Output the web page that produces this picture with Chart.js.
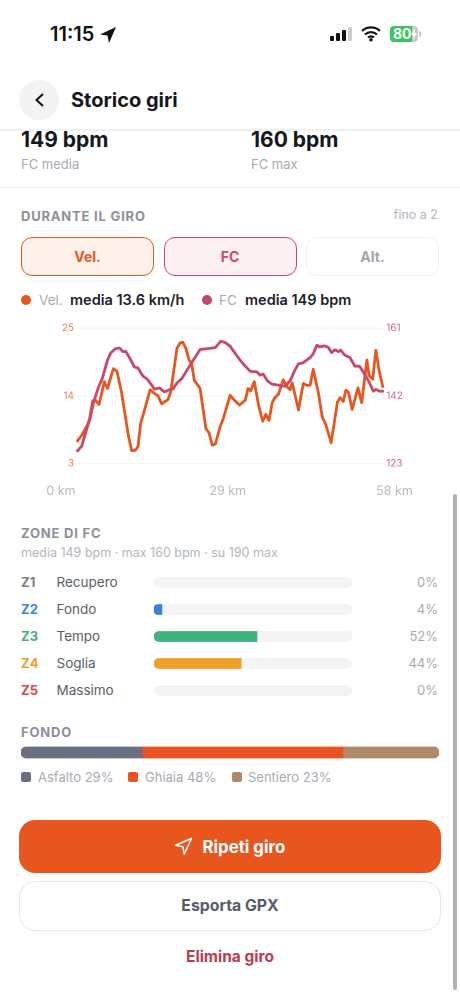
<!DOCTYPE html>
<html lang="it"><head><meta charset="utf-8">
<script src="https://cdn.jsdelivr.net/npm/chart.js@4"></script>
<style>
html,body{margin:0;padding:0;background:#fff;width:460px;height:995px;overflow:hidden;font-family:Inter,"Noto Sans",sans-serif}
.t{position:absolute;line-height:20px;height:20px;white-space:nowrap}
.box{position:absolute;box-sizing:border-box}
canvas{position:absolute}
.cap{font-size:13px;font-weight:700;letter-spacing:.8px;color:#8c909b}
.mut{color:#a6abb3;font-size:13px}
</style></head><body>
<div class="t" style="left:50px;top:24px;font-size:20px;font-weight:600;color:#111">11:15</div>
<svg class="box" style="left:99px;top:26px" width="18" height="18" viewBox="0 0 18 18"><path d="M17 1 1 8.5l7.5 1 1.5 7.5z" fill="#111"/></svg>
<svg class="box" style="left:329px;top:26px" width="24" height="16"><rect x="1" y="10" width="4" height="5" rx="1" fill="#111"/><rect x="7" y="7" width="4" height="8" rx="1" fill="#111"/><rect x="13" y="4" width="4" height="11" rx="1" fill="#111"/><rect x="19" y="1" width="4" height="14" rx="1" fill="#cfcfcf"/></svg>
<svg class="box" style="left:361px;top:25px" width="20" height="17" viewBox="0 0 20 17"><path d="M1 6a13 13 0 0 1 18 0M4 9.5a8.6 8.6 0 0 1 12 0M7 12.6a4.2 4.2 0 0 1 6 0" fill="none" stroke="#111" stroke-width="2.2"/><circle cx="10" cy="14.8" r="1.8" fill="#111"/></svg>
<div class="box" style="left:390px;top:26px;width:28px;height:16px;border-radius:4px;background:linear-gradient(90deg,#3cc463 80%,#c9c9c9 80%)"></div>
<div class="box" style="left:419px;top:31px;width:2px;height:6px;border-radius:1px;background:#c9c9c9"></div>
<div class="t" style="left:393px;top:24px;font-size:14px;font-weight:700;color:#fff">80</div>
<svg class="box" style="left:410px;top:28px" width="8" height="12" viewBox="0 0 8 12"><path d="M5 0 1 7h2.5L3 12l4-7H4.5z" fill="#fff"/></svg>

<div class="box" style="left:19px;top:80px;width:40px;height:40px;border-radius:50%;background:#f2f3f5"></div>
<svg class="box" style="left:33px;top:92px" width="13" height="16" viewBox="0 0 13 16"><path d="M10 2 3.5 8l6.500 6" fill="none" stroke="#111" stroke-width="2"/></svg>
<div class="t" style="left:71px;top:90px;font-size:20px;font-weight:700;color:#15171c">Storico giri</div>
<div class="box" style="left:0;top:129px;width:460px;height:2px;background:#f0f1f3"></div>

<div class="t" style="left:21px;top:130px;font-size:21px;font-weight:700;color:#15171c">149 bpm</div>
<div class="t mut" style="left:21px;top:153.500px">FC media</div>
<div class="t" style="left:251px;top:130px;font-size:21px;font-weight:700;color:#15171c">160 bpm</div>
<div class="t mut" style="left:251px;top:153.500px">FC max</div>
<div class="box" style="left:0;top:187px;width:460px;height:1px;background:#eeeff1"></div>

<div class="t cap" style="left:21px;top:206px">DURANTE IL GIRO</div>
<div class="t" style="right:22px;top:205px;font-size:12.500px;color:#b2b6bd">fino a 2</div>

<div class="box" style="left:21px;top:237px;width:133px;height:39px;border-radius:11px;border:1.800px solid #e8561f;background:#fef1ea"></div>
<div class="t" style="left:21px;width:133px;text-align:center;top:247px;font-size:14px;font-weight:700;color:#e8561f">Vel.</div>
<div class="box" style="left:163.500px;top:237px;width:133px;height:39px;border-radius:11px;border:1.800px solid #c9486a;background:#fcf0f3"></div>
<div class="t" style="left:163.500px;width:133px;text-align:center;top:247px;font-size:14px;font-weight:700;color:#c9486a">FC</div>
<div class="box" style="left:306px;top:237px;width:133px;height:39px;border-radius:11px;border:1.800px solid #f0f1f3;background:#fff"></div>
<div class="t" style="left:306px;width:133px;text-align:center;top:247px;font-size:14px;font-weight:700;color:#a0a4ac">Alt.</div>

<div class="box" style="left:21px;top:295px;width:10px;height:10px;border-radius:50%;background:#e8561f"></div>
<div class="t" style="left:39px;top:290px;font-size:13.500px;color:#a6abb3">Vel.</div>
<div class="t" style="left:70px;top:290px;font-size:14.500px;font-weight:600;color:#1d2129">media 13.6 km/h</div>
<div class="box" style="left:202px;top:295px;width:10px;height:10px;border-radius:50%;background:#c9486a"></div>
<div class="t" style="left:219px;top:290px;font-size:13.500px;color:#a6abb3">FC</div>
<div class="t" style="left:245px;top:290px;font-size:14.500px;font-weight:600;color:#1d2129">media 149 bpm</div>

<canvas id="ride" style="left:0;top:310px;width:460px;height:195px"></canvas>

<div class="t cap" style="left:21px;top:523px">ZONE DI FC</div>
<div class="t" style="left:21px;top:543px;font-size:12.500px;color:#b2b6bd">media 149 bpm · max 160 bpm · su 190 max</div>
<div id="zoneText"></div>
<canvas id="zones" style="left:154px;top:568.700px;width:198px;height:135px"></canvas>

<div class="t cap" style="left:21px;top:722px">FONDO</div>
<canvas id="surface" style="left:21px;top:745px;width:418px;height:15px"></canvas>
<div id="surfaceText"></div>

<div class="box" style="left:19px;top:819.500px;width:422px;height:53.500px;border-radius:16px;background:#e8561f"></div>
<svg class="box" style="left:174px;top:837px" width="19" height="19" viewBox="0 0 19 19"><path d="M17.500 1.500 1.500 8.200l7.300 1.500 1.500 7.300z" fill="none" stroke="#fff" stroke-width="1.500" stroke-linejoin="round"/></svg>
<div class="t" style="left:202.500px;top:836.500px;font-size:16.800px;font-weight:700;color:#fff">Ripeti giro</div>
<div class="box" style="left:19px;top:880.500px;width:422px;height:50px;border-radius:16px;border:1.500px solid #e4e6ea;background:#fff"></div>
<div class="t" style="left:19px;width:422px;text-align:center;top:895.500px;font-size:15.800px;font-weight:700;color:#555c6a">Esporta GPX</div>
<div class="t" style="left:19px;width:422px;text-align:center;top:947px;font-size:15.500px;font-weight:700;color:#bc3a4e">Elimina giro</div>
<div class="box" style="left:453px;top:494px;width:3.500px;height:496px;border-radius:2px;background:#b2b2b2"></div>

<script>
// --- ride chart ---
const speedKm = [0,0.8,1.9,2.3,2.9,3.4,4.1,5.1,5.7,6.8,7.5,8.4,8.9,9.7,10.3,11.0,11.5,12.0,12.9,13.8,14.6,15.3,16.0,17.2,17.7,18.4,18.9,19.5,20.0,20.6,21.2,21.7,22.2,23.3,24.4,25.0,25.6,26.2,27.1,27.7,29.0,29.8,30.8,31.9,32.4,32.9,33.6,34.4,35.2,35.8,36.4,37.0,37.5,38.2,39.1,39.8,40.4,40.8,42.0,42.9,43.6,44.2,44.8,45.8,46.5,47.2,48.2,49.4,49.9,50.5,51.0,51.5,52.2,53.3,54.0,55.0,55.4,56.1,56.7,57.3,58];
const speedKmh = [6.7,7.6,9.3,10.3,13.2,13.3,12.6,16.3,15.2,18.4,18.0,14.4,11.7,7.4,5.1,5.2,5.8,9.5,12.2,15.0,14.4,14.0,12.7,13.4,14.6,18.7,21.7,22.6,22.7,21.7,19.8,19.2,16.5,15.2,8.7,8.0,6.0,6.2,9.0,10.3,14.1,13.3,12.5,13.3,15.2,14.8,16.3,12.5,9.9,11.0,10.0,12.9,13.7,14.3,16.6,15.5,15.0,16.1,11.7,16.0,15.7,15.7,18.3,14.4,10.6,9.3,6.4,13.0,13.7,13.1,14.9,14.6,11.8,15.3,12.9,19.8,17.3,16.7,21.4,18.2,15.5];
const hrKm = [0,0.8,1.5,2.4,3.0,4.0,4.7,5.7,6.3,7.2,8.0,8.6,9.2,10.0,10.8,11.5,12.4,13.3,14.1,14.6,15.6,16.5,17.6,18.2,18.9,19.8,20.6,21.4,22.4,23.3,24.6,26.2,27.2,28.1,29.0,30.0,30.9,31.9,32.8,34.1,34.7,35.3,36.1,36.9,38.2,39.4,40.4,41.3,42.0,42.8,44.2,44.8,45.5,46.0,47.0,47.7,48.3,48.9,49.6,50.0,50.8,51.8,52.7,53.6,54.3,55.3,56.2,56.7,57.4,58];
const hrBpm = [126.6,127.9,131.5,135.7,139.9,144.5,146.8,152.0,154.0,155.2,155.4,154.4,154.4,152.4,150.1,149.8,147.6,146.6,145.0,143.9,144.2,143.1,143.8,144.0,145.6,146.8,148.7,150.6,152.9,155.0,155.2,155.5,157.3,156.9,155.9,153.8,152.0,150.3,148.9,148.7,147.8,148.1,146.2,145.3,145.0,144.7,146.2,149.2,151.0,151.2,152.7,153.8,156.2,155.7,156.0,155.5,154.1,154.9,154.4,154.8,153.4,152.7,150.3,150.3,148.7,146.2,143.3,143.8,143.3,143.3];
const speedTicks = [3,14,25];
const hrTicks = [123,142,161];
const kmTicks = [0,29,58];
// --- zones ---
const zoneCodes = ["Z1","Z2","Z3","Z4","Z5"];
const zoneNames = ["Recupero","Fondo","Tempo","Soglia","Massimo"];
const zonePercent = [0,4,52,44,0];
const zoneColors = ["#7d8088","#3b84de","#3fb27f","#f0a028","#d9484c"];
// --- surface ---
const surfaceNames = ["Asfalto","Ghiaia","Sentiero"];
const surfacePercent = [29,48,23];
const surfaceColors = ["#6b7080","#e8541e","#b08968"];

const ORANGE="#e8561f", ROSE="#c9486a";
const pts=(xs,ys)=>xs.map((x,i)=>({x,y:ys[i]}));

// moves the km label axis out to the wider span of its label row
const kmLabelSpan={id:"kmLabelSpan",afterLayout(c){const s=c.scales.kmLabels;s.left=61;s.right=394.5;s.width=333.5;s.configure();}};

new Chart(document.getElementById("ride"),{
 type:"line",
 data:{datasets:[
  {label:"FC",data:pts(hrKm,hrBpm),xAxisID:"x",yAxisID:"yHr",borderColor:ROSE,borderWidth:2.8,pointRadius:0,tension:0,borderJoinStyle:"round",borderCapStyle:"round"},
  {label:"Vel.",data:pts(speedKm,speedKmh),xAxisID:"x",yAxisID:"ySpeed",borderColor:ORANGE,borderWidth:2.8,pointRadius:0,tension:0,borderJoinStyle:"round",borderCapStyle:"round"}
 ]},
 plugins:[kmLabelSpan],
 options:{responsive:false,devicePixelRatio:2,animation:false,clip:false,
  layout:{padding:{top:18,left:0,right:0,bottom:0}},
  plugins:{legend:{display:false},tooltip:{enabled:false}},
  scales:{
   x:{type:"linear",min:0,max:58,display:false},
   kmLabels:{type:"linear",position:"bottom",min:0,max:58,
    grid:{display:false,drawTicks:false},border:{display:false},
    afterBuildTicks:s=>{s.ticks=kmTicks.map(v=>({value:v}));},
    afterFit:s=>{s.height=41.3;},
    ticks:{autoSkip:false,maxRotation:0,padding:20,color:"#b4b7bd",font:{family:"Inter",size:12.5},callback:v=>v+" km"}},
   ySpeed:{position:"left",min:3,max:25,
    grid:{color:"#f3f4f6",lineWidth:1.2,drawTicks:false},border:{display:false},
    afterBuildTicks:s=>{s.ticks=speedTicks.map(v=>({value:v}));},
    afterFit:s=>{s.width=77.5;},
    ticks:{padding:3.5,color:"#ec8050",font:{family:"Inter",size:10}}},
   yHr:{position:"right",min:123,max:161,
    grid:{display:false,drawTicks:false},border:{display:false},
    afterBuildTicks:s=>{s.ticks=hrTicks.map(v=>({value:v}));},
    afterFit:s=>{s.width=77.3;},
    ticks:{padding:3.5,color:"#cf6684",font:{family:"Inter",size:10}}}
  }}
});

new Chart(document.getElementById("zones"),{
 type:"bar",
 data:{labels:zoneCodes,datasets:[
  {data:zonePercent,backgroundColor:c=>c.raw>0?zoneColors[c.dataIndex]:"transparent",barThickness:10,borderSkipped:false,borderRadius:{topLeft:5,bottomLeft:5,topRight:0,bottomRight:0},order:1},
  {data:zoneCodes.map(()=>100),backgroundColor:"#f3f4f6",barThickness:10,borderSkipped:false,borderRadius:5,order:2}
 ]},
 options:{indexAxis:"y",responsive:false,devicePixelRatio:2,animation:false,
  datasets:{bar:{grouped:false}},
  plugins:{legend:{display:false},tooltip:{enabled:false}},
  scales:{x:{min:0,max:100,display:false},y:{display:false}}}
});

new Chart(document.getElementById("surface"),{
 type:"bar",
 data:{labels:["Fondo"],datasets:surfaceNames.map((n,i)=>({label:n,data:[surfacePercent[i]],backgroundColor:surfaceColors[i],barThickness:11,borderSkipped:false,
   borderRadius:i==0?{topLeft:5.5,bottomLeft:5.5,topRight:0,bottomRight:0}:i==surfaceNames.length-1?{topLeft:0,bottomLeft:0,topRight:5.5,bottomRight:5.5}:0}))},
 options:{indexAxis:"y",responsive:false,devicePixelRatio:2,animation:false,
  plugins:{legend:{display:false},tooltip:{enabled:false}},
  scales:{x:{stacked:true,min:0,max:100,display:false},y:{stacked:true,display:false}}}
});

const zoneText=document.getElementById("zoneText");
zoneCodes.forEach((z,i)=>{
 const y=571.7+i*27;
 zoneText.insertAdjacentHTML("beforeend",
  `<div class="t" style="left:21px;top:${y}px;font-size:13px;font-weight:700;color:${zoneColors[i]}">${z}</div>`+
  `<div class="t" style="left:56.5px;top:${y}px;font-size:13.5px;color:#5a606b">${zoneNames[i]}</div>`+
  `<div class="t" style="right:22px;top:${y}px;font-size:13px;color:#a6abb3">${zonePercent[i]}%</div>`);
});
const surfaceText=document.getElementById("surfaceText");
[[21,38],[128,145],[232,248]].forEach((p,i)=>{
 surfaceText.insertAdjacentHTML("beforeend",
  `<div class="box" style="left:${p[0]}px;top:772px;width:10px;height:10px;border-radius:2px;background:${surfaceColors[i]}"></div>`+
  `<div class="t mut" style="left:${p[1]}px;top:767px">${surfaceNames[i]} ${surfacePercent[i]}%</div>`);
});
</script>
</body></html>
